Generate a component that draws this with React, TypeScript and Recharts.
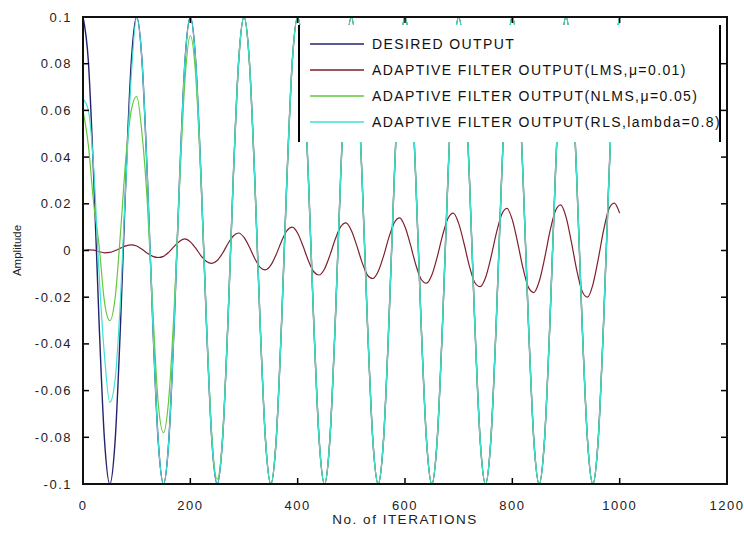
import React from 'react';
import { LineChart, Line, XAxis, YAxis } from 'recharts';

// iteration index (sampled every 10 iterations)
const iterations = [
  0, 10, 20, 30, 40, 50, 60, 70, 80, 90,
  100, 110, 120, 130, 140, 150, 160, 170, 180, 190,
  200, 210, 220, 230, 240, 250, 260, 270, 280, 290,
  300, 310, 320, 330, 340, 350, 360, 370, 380, 390,
  400, 410, 420, 430, 440, 450, 460, 470, 480, 490,
  500, 510, 520, 530, 540, 550, 560, 570, 580, 590,
  600, 610, 620, 630, 640, 650, 660, 670, 680, 690,
  700, 710, 720, 730, 740, 750, 760, 770, 780, 790,
  800, 810, 820, 830, 840, 850, 860, 870, 880, 890,
  900, 910, 920, 930, 940, 950, 960, 970, 980, 990,
  1000,
];

const desired = [
  0.1, 0.081, 0.031, -0.031, -0.081, -0.1, -0.081, -0.031, 0.031, 0.081,
  0.1, 0.081, 0.031, -0.031, -0.081, -0.1, -0.081, -0.031, 0.031, 0.081,
  0.1, 0.081, 0.031, -0.031, -0.081, -0.1, -0.081, -0.031, 0.031, 0.081,
  0.1, 0.081, 0.031, -0.031, -0.081, -0.1, -0.081, -0.031, 0.031, 0.081,
  0.1, 0.081, 0.031, -0.031, -0.081, -0.1, -0.081, -0.031, 0.031, 0.081,
  0.1, 0.081, 0.031, -0.031, -0.081, -0.1, -0.081, -0.031, 0.031, 0.081,
  0.1, 0.081, 0.031, -0.031, -0.081, -0.1, -0.081, -0.031, 0.031, 0.081,
  0.1, 0.081, 0.031, -0.031, -0.081, -0.1, -0.081, -0.031, 0.031, 0.081,
  0.1, 0.081, 0.031, -0.031, -0.081, -0.1, -0.081, -0.031, 0.031, 0.081,
  0.1, 0.081, 0.031, -0.031, -0.081, -0.1, -0.081, -0.031, 0.031, 0.081,
  0.1,
];

const lms = [
  0, 0.0003, 0.0002, -0.0005, -0.001, -0.0008, 0, 0.001, 0.002, 0.0024,
  0.0019, 0.0005, -0.0012, -0.0025, -0.003, -0.0025, -0.0007, 0.0018, 0.004, 0.005,
  0.0037, 0.001, -0.0023, -0.0047, -0.0055, -0.0043, -0.0012, 0.0029, 0.0062, 0.0075,
  0.0056, 0.0015, -0.0034, -0.0072, -0.0083, -0.0063, -0.0017, 0.004, 0.0085, 0.01,
  0.0074, 0.0019, -0.0044, -0.0091, -0.0105, -0.0079, -0.0021, 0.0048, 0.0101, 0.0118,
  0.0086, 0.0022, -0.0051, -0.0105, -0.012, -0.009, -0.0024, 0.0056, 0.0119, 0.014,
  0.0102, 0.0026, -0.006, -0.0123, -0.014, -0.0105, -0.0028, 0.0065, 0.0137, 0.016,
  0.0116, 0.003, -0.0067, -0.0137, -0.0155, -0.0117, -0.0031, 0.0072, 0.0153, 0.018,
  0.0131, 0.0033, -0.0077, -0.0158, -0.018, -0.0133, -0.0035, 0.0081, 0.0168, 0.0195,
  0.0144, 0.0037, -0.0084, -0.0174, -0.02, -0.0147, -0.0038, 0.0086, 0.0178, 0.0203,
  0.016,
];

const nlms = [
  0.06, 0.045, 0.02, 0.002, -0.022, -0.03, -0.02, 0.008, 0.04, 0.06,
  0.066, 0.05, 0.02, -0.025, -0.065, -0.078, -0.063, -0.024, 0.028, 0.073,
  0.092, 0.075, 0.029, -0.03, -0.079, -0.098, -0.08, -0.031, 0.031, 0.081,
  0.1, 0.081, 0.031, -0.031, -0.081, -0.1, -0.081, -0.031, 0.031, 0.081,
  0.1, 0.081, 0.031, -0.031, -0.081, -0.1, -0.081, -0.031, 0.031, 0.081,
  0.1, 0.081, 0.031, -0.031, -0.081, -0.1, -0.081, -0.031, 0.031, 0.081,
  0.1, 0.081, 0.031, -0.031, -0.081, -0.1, -0.081, -0.031, 0.031, 0.081,
  0.1, 0.081, 0.031, -0.031, -0.081, -0.1, -0.081, -0.031, 0.031, 0.081,
  0.1, 0.081, 0.031, -0.031, -0.081, -0.1, -0.081, -0.031, 0.031, 0.081,
  0.1, 0.081, 0.031, -0.031, -0.081, -0.1, -0.081, -0.031, 0.031, 0.081,
  0.1,
];

const rls = [
  0.065, 0.06, 0.035, -0.01, -0.045, -0.065, -0.055, -0.02, 0.03, 0.075,
  0.1, 0.081, 0.031, -0.031, -0.081, -0.1, -0.081, -0.031, 0.031, 0.081,
  0.1, 0.081, 0.031, -0.031, -0.081, -0.1, -0.081, -0.031, 0.031, 0.081,
  0.1, 0.081, 0.031, -0.031, -0.081, -0.1, -0.081, -0.031, 0.031, 0.081,
  0.1, 0.081, 0.031, -0.031, -0.081, -0.1, -0.081, -0.031, 0.031, 0.081,
  0.1, 0.081, 0.031, -0.031, -0.081, -0.1, -0.081, -0.031, 0.031, 0.081,
  0.1, 0.081, 0.031, -0.031, -0.081, -0.1, -0.081, -0.031, 0.031, 0.081,
  0.1, 0.081, 0.031, -0.031, -0.081, -0.1, -0.081, -0.031, 0.031, 0.081,
  0.1, 0.081, 0.031, -0.031, -0.081, -0.1, -0.081, -0.031, 0.031, 0.081,
  0.1, 0.081, 0.031, -0.031, -0.081, -0.1, -0.081, -0.031, 0.031, 0.081,
  0.1,
];

const xTicks = [0, 200, 400, 600, 800, 1000, 1200];
const yTicks = [-0.1, -0.08, -0.06, -0.04, -0.02, 0, 0.02, 0.04, 0.06, 0.08, 0.1];

const seriesNames = [
  'DESIRED OUTPUT',
  'ADAPTIVE FILTER OUTPUT(LMS,\u03bc=0.01)',
  'ADAPTIVE FILTER OUTPUT(NLMS,\u03bc=0.05)',
  'ADAPTIVE FILTER OUTPUT(RLS,lambda=0.8)',
];
const colors = ['#23236e', '#7d1f2c', '#62c83c', '#3fe0d6'];

const data = iterations.map((n, i) => ({
  n,
  desired: desired[i],
  lms: lms[i],
  nlms: nlms[i],
  rls: rls[i],
}));

const W = 744;
const H = 537;
const LEFT = 83;
const TOP = 17;
const RIGHT = 727;
const BOTTOM = 484;
const FONT = '"Liberation Sans", Arial, sans-serif';

const fmt = (v: number) => (v === 0 ? '0' : String(v));

// bottom ticks also put the matching inward mark on the top edge
const BottomTick = (props: any) => {
  const { x, payload } = props;
  return (
    <g>
      <line x1={x} x2={x} y1={BOTTOM} y2={BOTTOM - 6} stroke="#000" strokeWidth={1.5} />
      <line x1={x} x2={x} y1={TOP} y2={TOP + 6} stroke="#000" strokeWidth={1.5} />
      <text x={x} y={BOTTOM + 21} textAnchor="middle" dominantBaseline="central"
        fontFamily={FONT} fontSize={13} letterSpacing={1.5} fill="#222">
        {payload.value}
      </text>
    </g>
  );
};

// left ticks also put the matching inward mark on the right edge
const LeftTick = (props: any) => {
  const { y, payload } = props;
  return (
    <g>
      <line x1={LEFT} x2={LEFT + 6} y1={y} y2={y} stroke="#000" strokeWidth={1.5} />
      <line x1={RIGHT} x2={RIGHT - 6} y1={y} y2={y} stroke="#000" strokeWidth={1.5} />
      <text x={72} y={y} textAnchor="end" dominantBaseline="central"
        fontFamily={FONT} fontSize={13} letterSpacing={1.5} fill="#222">
        {fmt(payload.value)}
      </text>
    </g>
  );
};

const LegendBox = () => (
  <div
    style={{
      position: 'absolute',
      left: 298,
      top: 25,
      width: 423,
      height: 117,
      background: '#fff',
      borderLeft: '2px solid #000',
      borderRight: '2px solid #000',
      boxSizing: 'border-box',
    }}
  >
    {seriesNames.map((name, i) => (
      <div
        key={name}
        style={{
          position: 'absolute',
          left: 0,
          top: 9 + i * 26,
          height: 20,
          display: 'flex',
          alignItems: 'center',
          whiteSpace: 'nowrap',
        }}
      >
        <svg width={72} height={20}>
          <line x1={10} x2={64} y1={10} y2={10} stroke={colors[i]} strokeWidth={1.5} />
        </svg>
        <span
          style={{
            fontFamily: FONT,
            fontSize: 14,
            letterSpacing: 1.4,
            color: '#111',
          }}
        >
          {name}
        </span>
      </div>
    ))}
  </div>
);

export default function App() {
  return (
    <div style={{ position: 'absolute', left: 0, top: 0, width: W, height: H }}>
      <LineChart
        width={W}
        height={H}
        data={data}
        margin={{ top: TOP, right: W - RIGHT, bottom: 0, left: 0 }}
      >
        <XAxis
          dataKey="n"
          type="number"
          domain={[0, 1200]}
          ticks={xTicks}
          height={H - BOTTOM}
          tickLine={false}
          axisLine={false}
          tick={<BottomTick />}
          interval={0}
        />
        <YAxis
          type="number"
          domain={[-0.1, 0.1]}
          ticks={yTicks}
          width={LEFT}
          tickLine={false}
          axisLine={false}
          tick={<LeftTick />}
          interval={0}
          label={{
            value: 'Amplitude',
            angle: -90,
            position: 'insideLeft',
            offset: 17,
            style: { fontFamily: FONT, fontSize: 11.5, fill: '#222', textAnchor: 'middle' },
          }}
        />
        <Line type="monotone" dataKey="desired" stroke={colors[0]} strokeWidth={1.4} dot={false} isAnimationActive={false} />
        <Line type="monotone" dataKey="lms" stroke={colors[1]} strokeWidth={1.2} dot={false} isAnimationActive={false} />
        <Line type="monotone" dataKey="nlms" stroke={colors[2]} strokeWidth={1.2} dot={false} isAnimationActive={false} />
        <Line type="monotone" dataKey="rls" stroke={colors[3]} strokeWidth={1.2} dot={false} isAnimationActive={false} />
      </LineChart>
      {/* plot frame */}
      <div
        style={{
          position: 'absolute',
          left: LEFT - 1,
          top: TOP - 1,
          width: RIGHT - LEFT + 2,
          height: BOTTOM - TOP + 2,
          border: '2px solid #111',
          boxSizing: 'border-box',
          pointerEvents: 'none',
        }}
      />
      <div
        style={{
          position: 'absolute',
          left: LEFT,
          width: RIGHT - LEFT,
          top: 512,
          textAlign: 'center',
          fontFamily: FONT,
          fontSize: 13.5,
          letterSpacing: 1.5,
          color: '#222',
        }}
      >
        No. of ITERATIONS
      </div>
      <LegendBox />
    </div>
  );
}
